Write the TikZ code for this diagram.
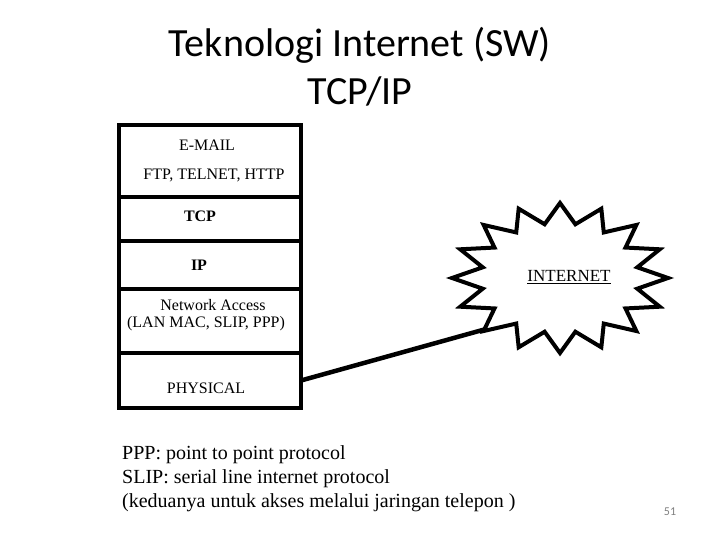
\documentclass[tikz,border=0pt]{standalone}
\usepackage{fontspec}
\setmainfont{Liberation Serif}
\newfontfamily\titlefont{Carlito}
\usetikzlibrary{calc,positioning}
\tikzset{layer/.style={draw,line width=4pt,minimum width=182pt,outer sep=0pt,inner sep=0pt},
  lbl/.style={font=\fontsize{16}{18}\selectfont,inner sep=0pt},
  note/.style={font=\fontsize{20}{24}\selectfont,inner sep=0pt,anchor=west},
  link/.style={line width=4.5pt}}
\begin{document}
\begin{tikzpicture}[x=1pt,y=-1pt]
\useasboundingbox (0,0) rectangle (720,540);
% title
\node[font=\titlefont\fontsize{40}{48}\selectfont,align=center] (title) at (360,67) {Teknologi Internet (SW)\\TCP/IP};
% protocol stack
\node[layer,minimum height=72pt,anchor=north] (app) at (210,125) {};
\node[layer,minimum height=44pt,below=0pt of app] (tcp) {};
\node[layer,minimum height=48pt,below=0pt of tcp] (ip) {};
\node[layer,minimum height=64pt,below=0pt of ip] (nacc) {};
\node[layer,minimum height=55pt,below=0pt of nacc] (phys) {};
\node[lbl] (mail) at (207,145) {E-MAIL};
\node[lbl] (ftp) at (214,175) {FTP, TELNET, HTTP};
\node[lbl,font=\fontsize{16}{18}\selectfont\bfseries] (tcplbl) at (200,216) {TCP};
\node[lbl,font=\fontsize{16}{18}\selectfont\bfseries] (iplbl) at (199,265) {IP};
\node[lbl] (nacc1) at (213,305) {Network Access};
\node[lbl] (nacc2) at (206,324) {(LAN MAC, SLIP, PPP)};
\node[lbl] (physlbl) at (206,388) {PHYSICAL};
% internet cloud (y axis points down, so angles run clockwise)
\coordinate (net) at (560,278);
\draw[line width=4pt,line join=miter] (net) ++(90:108 and 75)
  \foreach \i in {1,...,31} {
    \ifodd\i -- ($(net)+({90+\i*11.25}:78.8 and 54.8)$)
    \else -- ($(net)+({90+\i*11.25}:108 and 75)$) \fi
  } -- cycle;
\coordinate (nettip) at ($(net)+(135:104 and 72)$);
\node[lbl,font=\fontsize{17}{18}\selectfont,anchor=base] (netlbl) at (569,281) {INTERNET};
\draw[line width=0.8pt] ($(netlbl.base west)+(0,2)$) -- ($(netlbl.base east)+(0,2)$);
\draw[link] (phys.east) -- (nettip);
% notes
\node[note] (n1) at (122,455) {PPP: point to point protocol};
\node[note] (n2) at (122,479) {SLIP: serial line internet protocol};
\node[note] (n3) at (122,503) {(keduanya untuk akses melalui jaringan telepon )};
\node[font=\titlefont\fontsize{12}{14}\selectfont,text=gray] (pg) at (670,512) {51};
\end{tikzpicture}
\end{document}
